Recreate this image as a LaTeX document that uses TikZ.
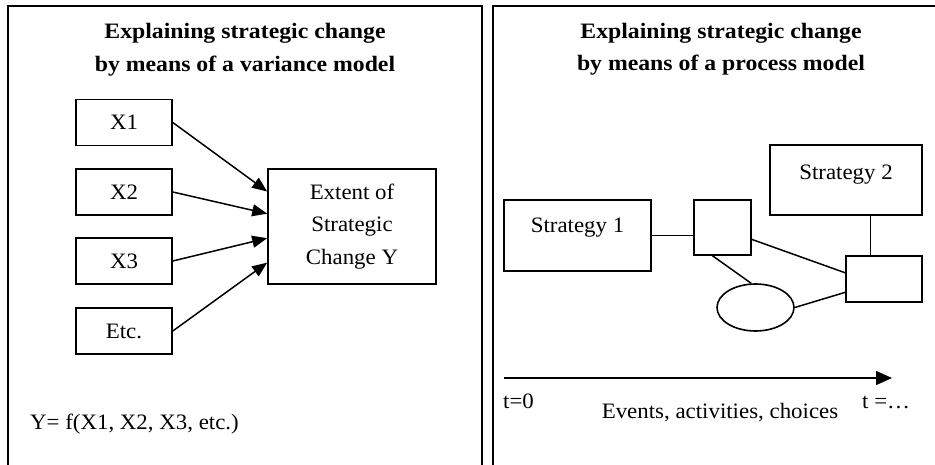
\documentclass[tikz,border=0pt]{standalone}
\usepackage{fontspec}
\setmainfont{Liberation Serif}[FakeStretch=1.04, BoldFeatures={FakeStretch=1.08}]
\usetikzlibrary{arrows.meta,calc,shapes.geometric}
\begin{document}
\begin{tikzpicture}[x=1pt,y=-1pt,
  panel/.style={line width=2pt},
  box/.style={draw, line width=1.6pt, inner sep=0pt, font=\fontsize{22}{32.5}\selectfont},
  txt/.style={inner sep=0pt, font=\fontsize{22}{33}\selectfont},
  ttl/.style={inner sep=0pt, font=\fontsize{22}{33}\selectfont\bfseries},
  conn/.style={line width=1.5pt},
  arr/.style={line width=1.5pt, -{Triangle[length=15pt,width=12pt]}},
  axisarr/.style={line width=1.6pt, -{Triangle[length=16pt,width=14pt]}},
]
\useasboundingbox (0,0) rectangle (935,465);
% panels
\draw[panel] (8,465) -- (8,6) -- (482,6) -- (482,465);
\draw[panel] (493,465) -- (493,6) -- (935,6);

% left panel
\node[ttl, anchor=base] (tl1) at (245,39) {Explaining strategic change};
\node[ttl, anchor=base] (tl2) at (245,72) {by means of a variance model};
\node[box, minimum width=96pt, minimum height=46pt] (x1) at (124,122.5) {X1};
\node[box, minimum width=96pt, minimum height=46pt] (x2) at (124,192) {X2};
\node[box, minimum width=96pt, minimum height=46pt] (x3) at (124,261) {X3};
\node[box, minimum width=96pt, minimum height=46pt] (xe) at (124,331) {Etc.};
\node[box, minimum width=168pt, minimum height=115pt, align=center] (y) at (352,226.5) {Extent of\\Strategic\\Change Y};
\draw[arr] (x1.east) -- ($(y.north west)!0.2!(y.south west)$);
\draw[arr] (x2.east) -- ($(y.north west)!0.39!(y.south west)$);
\draw[arr] (x3.east) -- ($(y.north west)!0.6!(y.south west)$);
\draw[arr] (xe.east) -- ($(y.north west)!0.81!(y.south west)$);
\node[txt, anchor=base west] (fx) at (30,429) {Y= f(X1, X2, X3, etc.)};

% right panel
\node[ttl, anchor=base] (tr1) at (721,39) {Explaining strategic change};
\node[ttl, anchor=base] (tr2) at (721,71) {by means of a process model};
\node[box, minimum width=147pt, minimum height=71pt, text height=14pt, text depth=19pt] (s1) at (577.5,235.5) {Strategy 1};
\node[box, minimum width=152pt, minimum height=70pt, text height=14pt, text depth=14pt] (s2) at (846,180) {Strategy 2};
\node[box, minimum width=57pt, minimum height=55pt] (sq) at (722.5,227.5) {};
\node[box, minimum width=76pt, minimum height=46pt] (rb) at (884,279) {};
\node[box, ellipse, minimum width=77pt, minimum height=47pt] (el) at (755.5,307.5) {};
\draw[conn] (s1.east) -- (s1.east -| sq.west);
\draw[conn] ($(sq.north east)!0.71!(sq.south east)$) -- ($(rb.north west)!0.37!(rb.south west)$);
\draw[conn] ($(sq.south west)!0.33!(sq.south east)$) -- (el.100);
\draw[conn] (el.east) -- ($(rb.north west)!0.78!(rb.south west)$);
\coordinate (s2b) at ($(s2.south west)!0.66!(s2.south east)$);
\draw[conn] (s2b) -- (s2b |- rb.north);

\coordinate (t0) at (504,378);
\coordinate (t1) at (892,378);
\draw[axisarr] (t0) -- (t1);
\node[txt, anchor=base west] (lt0) at (503,408) {t=0};
\node[txt, anchor=base west] (lt1) at (862,408) {t =…};
\node[txt, anchor=base] (ev) at (720,418) {Events, activities, choices};
\end{tikzpicture}
\end{document}
